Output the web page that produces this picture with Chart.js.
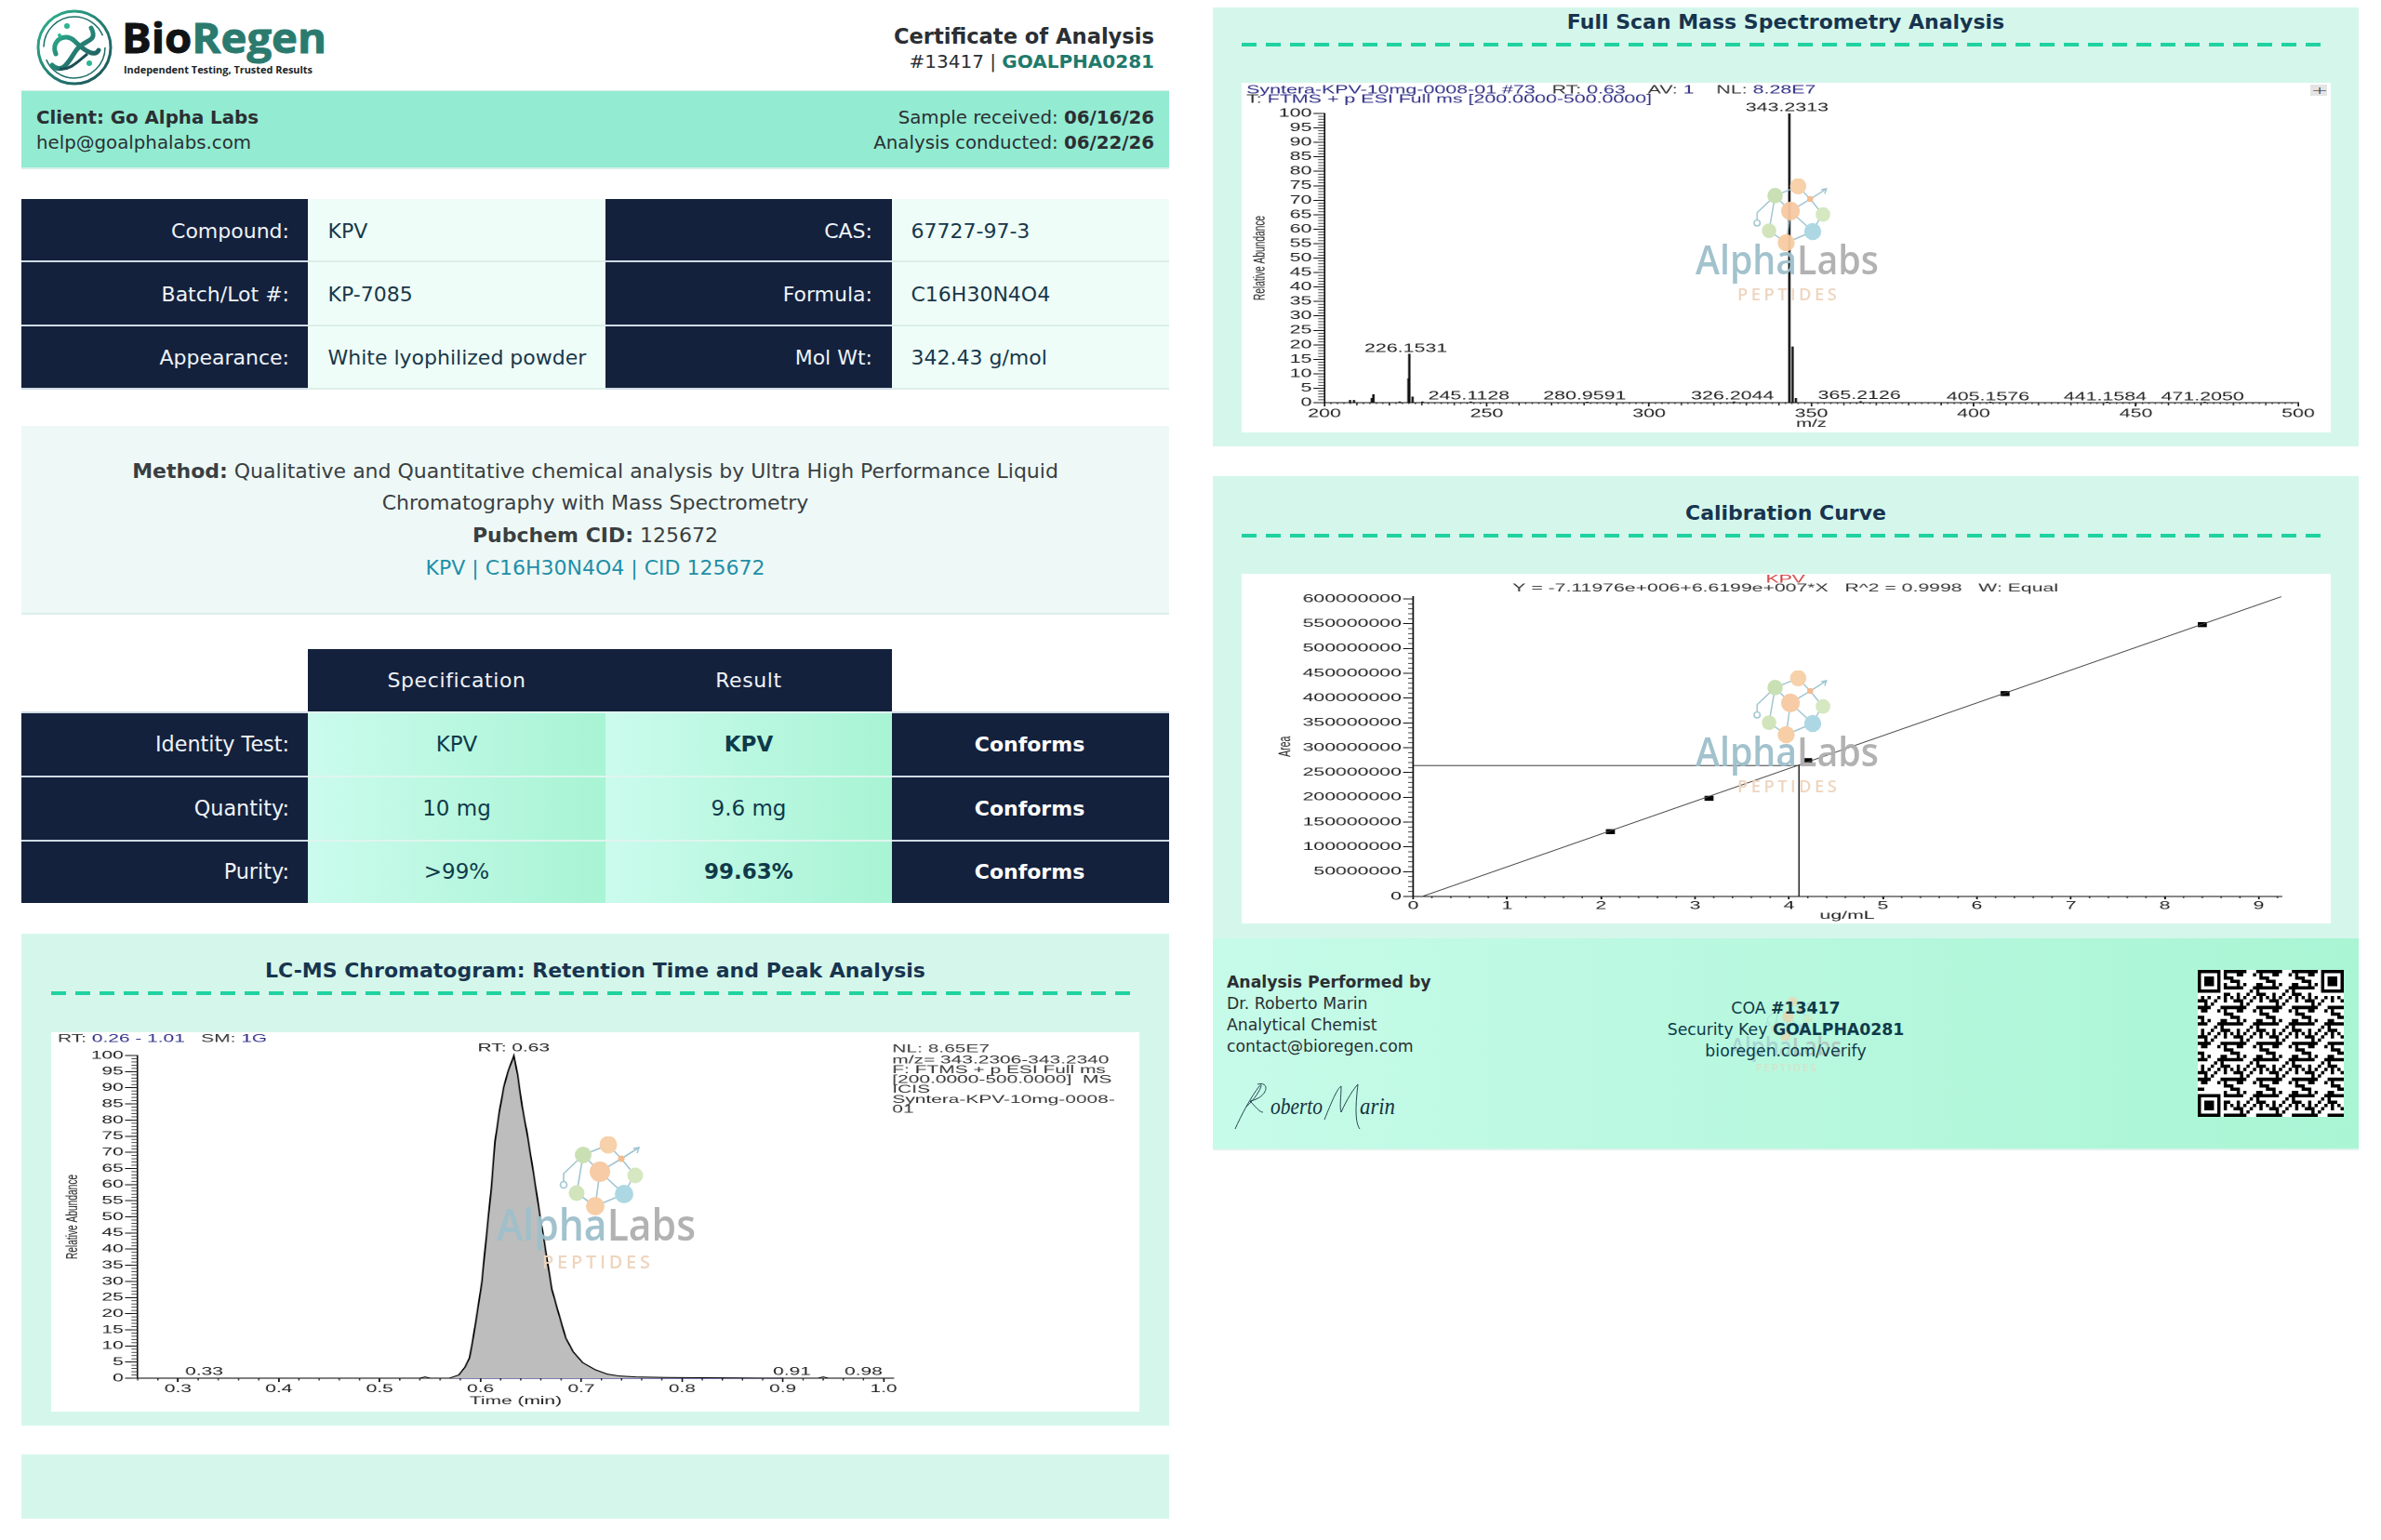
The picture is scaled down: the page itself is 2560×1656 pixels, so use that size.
<!DOCTYPE html>
<html>
<head>
<meta charset="utf-8">
<title>Certificate of Analysis</title>
<script src="https://cdn.jsdelivr.net/npm/chart.js@4"></script>
<style>
html, body { margin: 0; padding: 0; background: #fff; }
body { position: relative; width: 2560px; height: 1656px; overflow: hidden; font-family: "DejaVu Sans", sans-serif; color: #2b2f33; }
.abs { position: absolute; box-sizing: border-box; }
.txt { position: absolute; white-space: nowrap; }
canvas { position: absolute; }
b { font-weight: 700; }
</style>
</head>
<body>
<script>
// Chromatogram values
const lcTimes = [0.26, 0.54, 0.545, 0.55, 0.569, 0.5785, 0.5846, 0.589, 0.592, 0.597, 0.6015, 0.6046, 0.6077, 0.6108, 0.6145, 0.619, 0.623, 0.627, 0.6332, 0.637, 0.6415, 0.646, 0.651, 0.6554, 0.659, 0.663, 0.667, 0.671, 0.677, 0.6846, 0.692, 0.7015, 0.714, 0.726, 0.738, 0.754, 0.785, 0.837, 0.88, 0.935, 0.94, 0.945, 1.01];
const lcAbundance = [0, 0, 0.4, 0, 0, 1, 3.4, 6.2, 11, 20.7, 30, 40, 49.5, 59, 73.5, 83, 90, 94.7, 100, 93.8, 84, 76.4, 66.8, 58, 50.5, 43, 35, 27.4, 20.7, 12.5, 8.2, 4.8, 2.6, 1.25, 0.67, 0.38, 0.2, 0.1, 0, 0, 0.4, 0, 0];
const lcBaseTimes = [0.575, 0.9];
const lcBaseValues = [0, 0];
const lcTimeTicks = [0.3, 0.4, 0.5, 0.6, 0.7, 0.8, 0.9, 1.0];
const abundanceTicks = [0, 5, 10, 15, 20, 25, 30, 35, 40, 45, 50, 55, 60, 65, 70, 75, 80, 85, 90, 95, 100];
const lcLabelTimes = [0.633, 0.326, 0.909, 0.98];
const lcLabelHeights = [102.3, 2, 2, 2];
const lcLabelTexts = ['RT: 0.63', '0.33', '0.91', '0.98'];

// Full scan spectrum values
const msMz = [207.9, 209.1, 214.6, 215.1, 223.2, 225.9, 226.15, 227.15, 230.2, 245.1, 280.96, 326.2, 343.23, 344.23, 345.23, 365.21, 405.16, 441.16, 471.2];
const msAbundance = [0.8, 0.8, 1.5, 2.8, 0.3, 8.3, 16.8, 2, 0.3, 0.3, 0.2, 0.3, 100, 19.3, 1.5, 0.4, 0.2, 0.2, 0.2];
const mzTicks = [200, 250, 300, 350, 400, 450, 500];
const msLabelMz = [342.5, 225.1, 244.5, 280.2, 325.7, 364.8, 404.4, 440.5, 470.5];
const msLabelHeights = [102, 18.6, 2.3, 2.3, 2.2, 2.4, 2.0, 2.0, 2.0];
const msLabelTexts = ['343.2313', '226.1531', '245.1128', '280.9591', '326.2044', '365.2126', '405.1576', '441.1584', '471.2050'];

// Calibration values
const calConc = [2.1, 3.15, 4.2, 6.3, 8.4];
const calArea = [130.6e6, 198e6, 273.8e6, 409e6, 548e6];
const calFitConc = [0.096, 9.24];
const calFitArea = [0, 604.5e6];
const calGuideConc = [0, 4.107, 4.107];
const calGuideArea = [264e6, 264e6, 0];
const calConcTicks = [0, 1, 2, 3, 4, 5, 6, 7, 8, 9];
const calAreaTicks = [0, 50000000, 100000000, 150000000, 200000000, 250000000, 300000000, 350000000, 400000000, 450000000, 500000000, 550000000, 600000000];

// Certificate tables
const infoLeft = [['Compound:', 'KPV'], ['Batch/Lot #:', 'KP-7085'], ['Appearance:', 'White lyophilized powder']];
const infoRight = [['CAS:', '67727-97-3'], ['Formula:', 'C16H30N4O4'], ['Mol Wt:', '342.43 g/mol']];
const testNames = ['Identity Test:', 'Quantity:', 'Purity:'];
const testSpecs = ['KPV', '10 mg', '&gt;99%'];
const testResults = ['<b>KPV</b>', '9.6 mg', '<b>99.63%</b>'];

const NAVY = '#14213d';
const MINT = '#d5f7eb';
const CELL_GRAD = 'linear-gradient(90deg,#cbfbed,#a8f4d4)';

function box(x, y, w, h, css) {
    const d = document.createElement('div');
    d.className = 'abs';
    d.style.cssText = `left:${x}px;top:${y}px;width:${w}px;height:${h}px;${css || ''}`;
    document.body.appendChild(d);
    return d;
}

// align: l, r or c around x. y is the vertical centre of the line
function text(x, y, html, css, align) {
    const d = document.createElement('div');
    d.className = 'txt';
    const tx = align === 'r' ? '-100%' : align === 'c' ? '-50%' : '0';
    d.style.cssText = `left:${x}px;top:${y}px;transform:translate(${tx},-50%);${css || ''}`;
    d.innerHTML = html;
    document.body.appendChild(d);
}

// Header
document.body.insertAdjacentHTML('beforeend', `
<svg class="abs" style="left:0;top:0" width="380" height="96" viewBox="0 0 380 96">
  <defs><linearGradient id="lg" x1="0" y1="0" x2="1" y2="1"><stop offset="0" stop-color="#2fb592"/><stop offset="1" stop-color="#1c4f57"/></linearGradient></defs>
  <circle cx="80" cy="51" r="39" fill="none" stroke="url(#lg)" stroke-width="3"/>
  <circle cx="80" cy="51" r="33" fill="none" stroke="#1f6f6a" stroke-width="1.5" stroke-dasharray="90 14"/>
  <path d="M56 70 C68 82 76 62 82 54 C90 42 106 46 98 30 M60 58 C54 44 70 34 80 44 C90 54 102 62 106 54" fill="none" stroke="url(#lg)" stroke-width="5" stroke-linecap="round"/>
  <path d="M64 74 C76 76 86 64 94 58" fill="none" stroke="#1c4f57" stroke-width="3"/>
  <circle cx="72" cy="28" r="3" fill="#2fb592"/><circle cx="96" cy="68" r="3" fill="#2fb592"/><circle cx="64" cy="38" r="2" fill="#2fb592"/>
  <text x="131" y="57" font-family="Open Sans, sans-serif" font-weight="700" font-size="44" stroke-width="0.9" textLength="220" lengthAdjust="spacingAndGlyphs"><tspan fill="#101213" stroke="#101213">Bio</tspan><tspan fill="#2a7a6e" stroke="#2a7a6e">Regen</tspan></text>
  <text x="133" y="79" font-family="Open Sans, sans-serif" font-weight="700" font-size="10" fill="#1a2426" textLength="203" lengthAdjust="spacingAndGlyphs">Independent Testing, Trusted Results</text>
</svg>`);
text(1241, 39, 'Certificate of Analysis', 'font-size:22.6px;font-weight:700;', 'r');
text(1241, 66, '#13417 | <b style="color:#1f7a6c">GOALPHA0281</b>', 'font-size:20px;', 'r');

box(23, 97, 1234, 85, 'background:#93ebd2;border-bottom:2px solid #d8efe8;border-top:1px solid #d8efe8');
text(39, 126, '<b>Client: Go Alpha Labs</b>', 'font-size:19.8px;');
text(39, 153, 'help@goalphalabs.com', 'font-size:19.8px;');
text(1241, 126, 'Sample received: <b>06/16/26</b>', 'font-size:19.8px;', 'r');
text(1241, 153, 'Analysis conducted: <b>06/22/26</b>', 'font-size:19.8px;', 'r');

// Compound table
const infoRowTops = [214, 282, 350.5, 419];
infoLeft.forEach(function(row, i) {
    const y = infoRowTops[i], h = infoRowTops[i + 1] - y;
    const line = 'border-bottom:2px solid #cfdbe4;';
    box(23, y, 308, h, `background:${NAVY};${line}`);
    box(331, y, 320, h, 'background:#effdf8;border-bottom:2px solid #dcefe9;');
    box(651, y, 308, h, `background:${NAVY};${line}`);
    box(959, y, 298, h, 'background:#effdf8;border-bottom:2px solid #dcefe9;');
    const cy = y + h / 2 - 0.5;
    text(311, cy, row[0], 'font-size:22px;color:#eef3f7;', 'r');
    text(352.5, cy, row[1], 'font-size:22px;color:#17384a;');
    text(938, cy, infoRight[i][0], 'font-size:22px;color:#eef3f7;', 'r');
    text(979.5, cy, infoRight[i][1], 'font-size:22px;color:#17384a;');
});

// Method
box(23, 458, 1234, 203, 'background:#eef9f7;border-bottom:2px solid #dcefe9;');
text(640, 505.5, '<b>Method:</b> Qualitative and Quantitative chemical analysis by Ultra High Performance Liquid', 'font-size:22px;color:#3a3f42;', 'c');
text(640, 540, 'Chromatography with Mass Spectrometry', 'font-size:22px;color:#3a3f42;', 'c');
text(640, 575, '<b>Pubchem CID:</b> 125672', 'font-size:22px;color:#3a3f42;', 'c');
text(640, 610, 'KPV | C16H30N4O4 | CID 125672', 'font-size:22px;color:#1f8fa8;', 'c');

// Test results table
box(331, 698, 320, 67, `background:${NAVY};`);
box(651, 698, 308, 67, `background:${NAVY};`);
text(491, 731, 'Specification', 'font-size:22px;color:#eef3f7;letter-spacing:0.6px;', 'c');
text(805, 731, 'Result', 'font-size:22px;color:#eef3f7;letter-spacing:0.6px;', 'c');
const testRowTops = [765, 833.5, 902.5, 971];
testNames.forEach(function(name, i) {
    const y = testRowTops[i], h = testRowTops[i + 1] - y;
    const line = 'border-top:2px solid #cfdbe4;';
    box(23, y, 308, h, `background:${NAVY};${line}`);
    box(331, y, 320, h, `background:${CELL_GRAD};border-top:2px solid #dff5ee;`);
    box(651, y, 308, h, `background:${CELL_GRAD};border-top:2px solid #dff5ee;`);
    box(959, y, 298, h, `background:${NAVY};${line}`);
    const cy = y + h / 2 + 0.5;
    text(311, cy, name, 'font-size:22.3px;color:#eef3f7;', 'r');
    text(491, cy, testSpecs[i], 'font-size:23px;color:#0f3a4a;', 'c');
    text(805, cy, testResults[i], 'font-size:23px;color:#0f3a4a;', 'c');
    text(1107, cy, '<b>Conforms</b>', 'font-size:22px;color:#fff;', 'c');
});

// Panels behind the three charts
function panel(x, y, w, h, title, titleX, titleY, dashY, dx0, dx1) {
    box(x, y, w, h, `background:${MINT};`);
    text(titleX, titleY, title, 'font-size:22px;font-weight:700;color:#17344f;', 'c');
    box(dx0, dashY - 2, dx1 - dx0, 4, 'background:repeating-linear-gradient(90deg,#1fd2a0 0 16px,transparent 16px 26px);');
}
panel(23, 1004, 1234, 529, 'LC-MS Chromatogram: Retention Time and Peak Analysis', 640, 1042.5, 1068, 55, 1216);
box(23, 1564, 1234, 69, `background:${MINT};`);
panel(1304, 8, 1232, 472, 'Full Scan Mass Spectrometry Analysis', 1920, 22.5, 48, 1335, 2496);
panel(1304, 512, 1232, 497, 'Calibration Curve', 1920, 550.5, 576, 1335, 2496);

// The instrument exports are stretched sideways, so each canvas is too
function stretchedCanvas(x, y, w, h, sx) {
    box(x, y, w, h, 'background:#fff;');
    const c = document.createElement('canvas');
    c.width = Math.round(w / sx);
    c.height = h;
    c.style.left = x + 'px';
    c.style.top = y + 'px';
    c.style.width = w + 'px';
    c.style.height = h + 'px';
    document.body.appendChild(c);
    return c;
}

const chartFont = 'Liberation Sans';
Chart.defaults.animation = false;
Chart.defaults.font.family = chartFont;
Chart.defaults.plugins.legend.display = false;
Chart.defaults.plugins.tooltip.enabled = false;

// Labels peaks, adds minor ticks and the small instrument header lines
const instrumentPlugin = {
    id: 'instrument',
    afterDraw(chart, args, opts) {
        const ctx = chart.ctx;
        const xs = chart.scales.x, ys = chart.scales.y;
        ctx.save();
        ctx.strokeStyle = '#222';
        ctx.lineWidth = 0.8;
        (opts.minorX || []).forEach(function(m) {
            for (let i = Math.ceil(xs.min / m.step); i * m.step <= xs.max; i++) {
                const px = xs.getPixelForValue(i * m.step);
                ctx.beginPath();
                ctx.moveTo(px, ys.bottom);
                ctx.lineTo(px, ys.bottom + m.len);
                ctx.stroke();
            }
        });
        (opts.minorY || []).forEach(function(m) {
            for (let i = Math.ceil(ys.min / m.step); i * m.step <= ys.max; i++) {
                const py = ys.getPixelForValue(i * m.step);
                ctx.beginPath();
                ctx.moveTo(xs.left, py);
                ctx.lineTo(xs.left - m.len, py);
                ctx.stroke();
            }
        });
        ctx.textBaseline = 'middle';
        ctx.font = `${opts.size}px ${chartFont}`;
        ctx.fillStyle = '#222';
        ctx.textAlign = 'center';
        (opts.labelX || []).forEach(function(v, i) {
            ctx.fillText(opts.labelText[i], xs.getPixelForValue(v), ys.getPixelForValue(opts.labelY[i]));
        });
        ctx.textAlign = 'left';
        (opts.notes || []).forEach(function(n) {
            let px = n.x;
            if (n.center) {
                let w = 0;
                n.runs.forEach(r => { w += ctx.measureText(r[0]).width; });
                px -= w / 2;
            }
            n.runs.forEach(function(r) {
                ctx.fillStyle = r[1];
                ctx.fillText(r[0], px, n.y);
                px += ctx.measureText(r[0]).width;
            });
        });
        ctx.restore();
    }
};
Chart.register(instrumentPlugin);

function axis(o) {
    return {
        type: 'linear',
        min: o.min,
        max: o.max,
        offset: false,
        afterBuildTicks: function(s) { s.ticks = o.ticks.map(v => ({ value: v })); },
        afterFit: function(s) { if (o.width) s.width = o.width; if (o.height) s.height = o.height; },
        border: { display: true, color: '#111', width: 1 },
        grid: { display: true, drawOnChartArea: false, drawTicks: true, tickLength: o.tickLength, tickColor: '#111', offset: false },
        ticks: { autoSkip: false, maxRotation: 0, padding: o.padding, color: '#222', font: { size: o.size }, callback: o.fmt },
        title: { display: true, text: o.title, color: '#222', font: { size: o.titleSize }, padding: o.titlePad }
    };
}

const BLUE = '#2f2f86';
const DARK = '#333';

// LC-MS chromatogram
const lcSx = 1.7;
new Chart(stretchedCanvas(55, 1110, 1170, 408, lcSx), {
    type: 'scatter',
    data: {
        datasets: [
            {
                data: lcTimes.map((t, i) => ({ x: t, y: lcAbundance[i] })),
                showLine: true, tension: 0, pointRadius: 0, clip: false,
                borderColor: '#000', borderWidth: 1, fill: 'origin', backgroundColor: '#bdbdbd'
            },
            {
                data: lcBaseTimes.map((t, i) => ({ x: t, y: lcBaseValues[i] })),
                showLine: true, pointRadius: 0, clip: false, borderColor: BLUE, borderWidth: 1.2
            }
        ]
    },
    options: {
        responsive: false,
        devicePixelRatio: 2,
        layout: { padding: { left: 0, top: 25, right: (1225 - 961) / lcSx, bottom: 0 } },
        scales: {
            x: axis({ min: 0.26, max: 1.01, ticks: lcTimeTicks, height: 36, tickLength: 4, padding: 0, size: 12.3, title: 'Time (min)', titleSize: 12.3, titlePad: { bottom: 4, top: 0 }, fmt: v => v.toFixed(1) }),
            y: axis({ min: 0, max: 100, ticks: abundanceTicks, width: (148 - 55) / lcSx, tickLength: 8, padding: 1, size: 12.3, title: 'Relative Abundance', titleSize: 10.2, titlePad: { top: 7.5, bottom: 0 }, fmt: v => String(v) })
        },
        plugins: {
            instrument: {
                size: 12.3,
                minorX: [{ step: 0.02, len: 2.5 }],
                minorY: [{ step: 1, len: 4 }],
                labelX: lcLabelTimes, labelY: lcLabelHeights, labelText: lcLabelTexts,
                notes: [
                    { x: (62 - 55) / lcSx, y: 7, runs: [['RT: ', DARK], ['0.26 - 1.01', BLUE], ['   SM: ', DARK], ['1G', BLUE]] },
                    { x: (959 - 55) / lcSx, y: 18, runs: [['NL: 8.65E7', DARK]] },
                    { x: (959 - 55) / lcSx, y: 30, runs: [['m/z= 343.2306-343.2340', DARK]] },
                    { x: (959 - 55) / lcSx, y: 40.5, runs: [['F: FTMS + p ESI Full ms', DARK]] },
                    { x: (959 - 55) / lcSx, y: 51, runs: [['[200.0000-500.0000]  MS', DARK]] },
                    { x: (959 - 55) / lcSx, y: 61.5, runs: [['ICIS', DARK]] },
                    { x: (959 - 55) / lcSx, y: 72.5, runs: [['Syntera-KPV-10mg-0008-', DARK]] },
                    { x: (959 - 55) / lcSx, y: 83, runs: [['01', DARK]] }
                ]
            }
        }
    }
});

// Full scan spectrum
const msSx = 1.7;
new Chart(stretchedCanvas(1335, 89, 1171, 376, msSx), {
    type: 'bar',
    data: {
        datasets: [{
            data: msMz.map((m, i) => ({ x: m, y: msAbundance[i] })),
            backgroundColor: '#111', barThickness: 0.8
        }]
    },
    options: {
        responsive: false,
        devicePixelRatio: 2,
        layout: { padding: { left: 0, top: 33, right: (2506 - 2471) / msSx, bottom: 0 } },
        scales: {
            x: axis({ min: 200, max: 500, ticks: mzTicks, height: 32, tickLength: 4, padding: 0.5, size: 12.6, title: 'm/z', titleSize: 12, titlePad: { bottom: 2, top: 0 }, fmt: v => String(v) }),
            y: axis({ min: 0, max: 100, ticks: abundanceTicks, width: (1424 - 1335) / msSx, tickLength: 7, padding: 1, size: 12.6, title: 'Relative Abundance', titleSize: 10.2, titlePad: { top: 5.6, bottom: 0 }, fmt: v => String(v) })
        },
        plugins: {
            instrument: {
                size: 12.6,
                minorX: [{ step: 2, len: 1.5 }, { step: 10, len: 3 }],
                minorY: [{ step: 1, len: 4 }],
                labelX: msLabelMz, labelY: msLabelHeights, labelText: msLabelTexts,
                notes: [
                    { x: 3, y: 8, runs: [['Syntera-KPV-10mg-0008-01 #73', BLUE], ['   RT: ', DARK], ['0.63', BLUE], ['    AV: ', DARK], ['1', BLUE], ['    NL: ', DARK], ['8.28E7', BLUE]] },
                    { x: 3, y: 18, runs: [['T: ', DARK], ['FTMS + p ESI Full ms [200.0000-500.0000]', BLUE]] }
                ]
            }
        }
    }
});
box(2484, 91, 18, 12, 'background:#e4e4e4;');
text(2493, 97, '⊣⊢', 'font-size:10px;color:#222;letter-spacing:-2px;', 'c');

// Calibration curve
const calSx = 1.8;
new Chart(stretchedCanvas(1335, 617, 1171, 376, calSx), {
    type: 'scatter',
    data: {
        datasets: [
            {
                data: calFitConc.map((c, i) => ({ x: c, y: calFitArea[i] })),
                showLine: true, pointRadius: 0, clip: false, borderColor: '#444', borderWidth: 0.8
            },
            {
                data: calGuideConc.map((c, i) => ({ x: c, y: calGuideArea[i] })),
                showLine: true, pointRadius: 0, clip: false, borderColor: '#222', borderWidth: 0.8
            },
            {
                data: calConc.map((c, i) => ({ x: c, y: calArea[i] })),
                pointStyle: 'rect', pointRadius: 3.8, backgroundColor: '#000', borderColor: '#000', borderWidth: 0
            }
        ]
    },
    options: {
        responsive: false,
        devicePixelRatio: 2,
        layout: { padding: { left: 0, top: 24.5, right: (2506 - 2452.7) / calSx, bottom: 0 } },
        scales: {
            x: axis({ min: 0, max: 9.24, ticks: calConcTicks, height: 29, tickLength: 3, padding: 0, size: 11.8, title: 'ug/mL', titleSize: 11.8, titlePad: { bottom: 1, top: 0 }, fmt: v => String(v) }),
            y: axis({ min: 0, max: 604.7e6, ticks: calAreaTicks, width: (1519.5 - 1335) / calSx, tickLength: 6, padding: 1, size: 11.8, title: 'Area', titleSize: 10.5, titlePad: { top: 19.8, bottom: 0 }, fmt: v => String(v) })
        },
        plugins: {
            instrument: {
                size: 11.8,
                minorX: [{ step: 0.2, len: 1.8 }],
                minorY: [{ step: 10000000, len: 3 }],
                notes: [
                    { x: (1920 - 1335) / calSx, y: 6, center: true, runs: [['KPV', '#d2403f']] },
                    { x: (1920 - 1335) / calSx, y: 15.5, center: true, runs: [['Y = -7.11976e+006+6.6199e+007*X   R^2 = 0.9998   W: Equal', DARK]] }
                ]
            }
        }
    }
});

// AlphaLabs watermark, laid over the charts
function watermark(cx, top, s, opacity) {
    document.body.insertAdjacentHTML('beforeend', `
    <svg class="abs" style="left:${cx - 120 * s}px;top:${top}px;z-index:5;opacity:${opacity}" width="${240 * s}" height="${150 * s}" viewBox="0 0 240 150">
      <g stroke="#9cc3cf" stroke-width="1.6" fill="none">
        <path d="M106 20 L133 9 L147 24 L124 38 L106 20 M124 38 L119 75 L150 62 L124 38 M99 61 L119 75 M99 61 L106 20 M147 24 L161 41 M150 62 L161 41 M147 24 L166 12 M160 13 L166 12 L164 18 M106 20 L85 40 L85 48"/>
        <circle cx="85" cy="52" r="3.5"/>
      </g>
      <circle cx="133" cy="9" r="9.5" fill="#f7cfa6"/>
      <circle cx="106" cy="20" r="9" fill="#c7dfb0"/>
      <circle cx="124" cy="38" r="11" fill="#f6c9a2"/>
      <circle cx="162" cy="42" r="8.5" fill="#d3e7bf"/>
      <circle cx="150" cy="62" r="10" fill="#a9d6e2"/>
      <circle cx="99" cy="61" r="8.5" fill="#cfe3b8"/>
      <circle cx="119" cy="75" r="10" fill="#f8cca3"/>
      <circle cx="147" cy="24" r="3.5" fill="#f2b98c"/>
      <text x="120" y="112" text-anchor="middle" font-family="Open Sans, sans-serif" font-weight="600" font-size="47" textLength="214" lengthAdjust="spacingAndGlyphs"><tspan fill="#9dbfcb">Alpha</tspan><tspan fill="#aeaeae">Labs</tspan></text>
      <text x="120" y="142" text-anchor="middle" font-family="Open Sans, sans-serif" font-weight="600" font-size="20" fill="#eed3bc" textLength="116">PEPTIDES</text>
    </svg>`);
}
watermark(640.7, 1222, 1, 0.95);
watermark(1921, 192, 0.92, 0.95);
watermark(1921, 721, 0.92, 0.95);

// Footer band
box(1304, 1009, 1232, 228, 'background:linear-gradient(90deg,#c6fbe9,#a9f5d4);border-bottom:2px solid #dff3ec;');
watermark(1920, 1072, 0.56, 0.6);
text(1319, 1056, '<b>Analysis Performed by</b>', 'font-size:17.3px;z-index:6;');
text(1319, 1079, 'Dr. Roberto Marin', 'font-size:17.3px;z-index:6;');
text(1319, 1102, 'Analytical Chemist', 'font-size:17.3px;z-index:6;');
text(1319, 1125, 'contact@bioregen.com', 'font-size:17.3px;z-index:6;');
text(1920, 1084, 'COA <b>#13417</b>', 'font-size:17.3px;color:#0f3a4a;z-index:6;', 'c');
text(1920, 1107, 'Security Key <b>GOALPHA0281</b>', 'font-size:17.3px;color:#0f3a4a;z-index:6;', 'c');
text(1920, 1130, 'bioregen.com/verify', 'font-size:17.3px;color:#0f3a4a;z-index:6;', 'c');

document.body.insertAdjacentHTML('beforeend', `
<svg class="abs" style="left:1320px;top:1160px;z-index:6" width="190" height="60" viewBox="0 0 190 60">
  <path d="M8 54 C14 40 26 18 34 8 C40 2 32 20 20 30 M32 6 C46 2 44 20 24 24 C30 30 34 36 38 36 M104 44 C112 24 118 10 122 8 C122 20 120 30 122 36 C128 22 136 10 140 6 C138 24 136 46 142 54" fill="none" stroke="#16323f" stroke-width="0.9"/>
  <text x="46" y="38" font-family="Liberation Serif, serif" font-style="italic" font-size="25" fill="#16323f" textLength="56" lengthAdjust="spacingAndGlyphs">oberto</text>
  <text x="142" y="38" font-family="Liberation Serif, serif" font-style="italic" font-size="25" fill="#16323f" textLength="38" lengthAdjust="spacingAndGlyphs">arin</text>
</svg>`);

// QR block in the footer
(function() {
    const N = 45;
    let cells = '';
    function finder(r, c) {
        return (r >= 0 && r < 7 && c >= 0 && c < 7) ? (r === 0 || r === 6 || c === 0 || c === 6 || (r >= 2 && r <= 4 && c >= 2 && c <= 4)) : null;
    }
    for (let r = 0; r < N; r++) {
        for (let c = 0; c < N; c++) {
            let on = finder(r, c);
            if (on === null) on = finder(r, c - N + 7);
            if (on === null) on = finder(r - N + 7, c);
            if (on === null) {
                if ((r < 8 && c < 8) || (r < 8 && c >= N - 8) || (r >= N - 8 && c < 8)) on = false;
                else on = ((r * r * 7 + c * c * 13 + r * c * 3 + r + 2 * c) % 11) < 5;
            }
            if (on) cells += `M${c} ${r}h1v1h-1z`;
        }
    }
    document.body.insertAdjacentHTML('beforeend', `<svg class="abs" style="left:2363px;top:1043px;z-index:6;background:#fff" width="157" height="158" viewBox="0 0 ${N} ${N}" preserveAspectRatio="none"><path d="${cells}" fill="#000"/></svg>`);
})();
</script>
</body>
</html>
